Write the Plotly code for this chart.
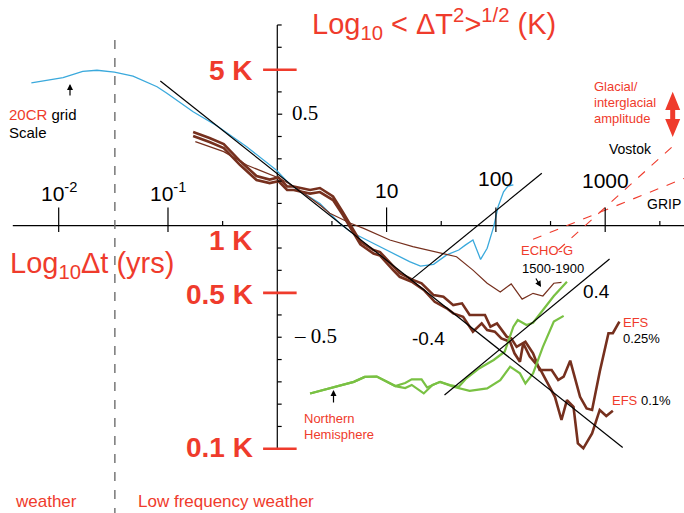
import plotly.graph_objects as go
import math

# ---------------- data (log10 of time lag in years, log10 of RMS fluctuation in K) ----------------
cr20_logdt = [-2.25, -1.96, -1.78, -1.65, -1.49, -1.32, -1.10, -1.01, -0.77, -0.55, -0.28, -0.01,
              0.12, 0.39, 0.57, 0.67, 0.85, 1.03, 1.21, 1.31, 1.43, 1.55, 1.66, 1.72, 1.79, 1.86,
              1.92, 1.98, 2.02, 2.07, 2.11, 2.16]
cr20_logdT = [0.640, 0.664, 0.692, 0.697, 0.689, 0.671, 0.623, 0.594, 0.511, 0.447, 0.354, 0.250,
              0.183, 0.100, 0.011, -0.027, -0.072, -0.117, -0.161, -0.181, -0.173, -0.131, -0.109,
              -0.087, -0.064, -0.151, -0.101, -0.004, 0.085, 0.152, 0.178, 0.183]

efs025_logdt = [-0.77, -0.62, -0.49, -0.34, -0.19, -0.07, 0.01, 0.09, 0.15, 0.30, 0.39, 0.51, 0.60,
                0.67, 0.76, 0.88, 0.94, 1.06, 1.12, 1.24, 1.32, 1.43, 1.52, 1.61, 1.69, 1.76, 1.90,
                1.95, 2.01, 2.10, 2.14, 2.19, 2.27, 2.34, 2.40, 2.51, 2.57, 2.62, 2.68, 2.77, 2.83,
                2.88, 2.95, 3.03, 3.07, 3.13]
efs025_logdT = [0.420, 0.393, 0.366, 0.290, 0.223, 0.207, 0.216, 0.176, 0.176, 0.160, 0.169, 0.131,
                0.061, 0.003, -0.071, -0.109, -0.118, -0.181, -0.213, -0.243, -0.258, -0.311, -0.318,
                -0.356, -0.348, -0.400, -0.400, -0.453, -0.438, -0.498, -0.505, -0.543, -0.520,
                -0.572, -0.647, -0.647, -0.692, -0.677, -0.605, -0.767, -0.819, -0.826, -0.655,
                -0.482, -0.482, -0.430]

efs01_logdt = [-0.77, -0.62, -0.49, -0.34, -0.19, -0.07, 0.01, 0.09, 0.15, 0.30, 0.39, 0.51, 0.60,
               0.67, 0.76, 0.88, 0.94, 1.06, 1.12, 1.23, 1.34, 1.44, 1.55, 1.61, 1.70, 1.79, 1.87,
               1.92, 1.99, 2.05, 2.13, 2.17, 2.22, 2.25, 2.31, 2.40, 2.49, 2.54, 2.60, 2.65, 2.71,
               2.75, 2.80, 2.88, 2.95, 3.01, 3.07]
efs01_logdT = [0.402, 0.375, 0.348, 0.272, 0.205, 0.191, 0.200, 0.160, 0.160, 0.144, 0.151, 0.115,
               0.048, -0.010, -0.084, -0.125, -0.134, -0.199, -0.229, -0.251, -0.288, -0.341,
               -0.370, -0.393, -0.408, -0.475, -0.438, -0.468, -0.475, -0.505, -0.520, -0.572,
               -0.610, -0.527, -0.587, -0.639, -0.722, -0.767, -0.871, -0.782, -0.812, -0.976,
               -0.998, -0.931, -0.826, -0.853, -0.830]

echog_logdt = [-0.75, -0.49, -0.28, -0.10, 0.02, 0.18, 0.39, 0.48, 0.60, 0.67, 0.79, 1.03, 1.24,
               1.49, 1.64, 1.79, 1.92, 2.04, 2.14, 2.24, 2.34, 2.43, 2.53, 2.60]
echog_logdT = [0.377, 0.332, 0.272, 0.235, 0.213, 0.168, 0.093, 0.056, 0.026, 0.011, -0.012,
               -0.064, -0.094, -0.124, -0.139, -0.199, -0.258, -0.297, -0.261, -0.329, -0.303,
               -0.315, -0.258, -0.254]

nh_a_logdt = [0.30, 0.57, 0.70, 0.80, 0.91, 0.99, 1.08, 1.17, 1.23, 1.32, 1.37, 1.49, 1.58, 1.66,
              1.73, 1.85, 1.98, 2.08, 2.16, 2.20, 2.28, 2.34, 2.43, 2.53, 2.65]
nh_a_logdT = [-0.752, -0.717, -0.700, -0.678, -0.676, -0.696, -0.719, -0.705, -0.689, -0.689,
              -0.725, -0.700, -0.714, -0.722, -0.684, -0.639, -0.602, -0.565, -0.453, -0.423,
              -0.445, -0.435, -0.378, -0.315, -0.251]

nh_b_logdt = [0.30, 0.57, 0.70, 0.80, 0.91, 0.99, 1.08, 1.17, 1.23, 1.34, 1.42, 1.49, 1.61, 1.76,
              1.92, 2.04, 2.13, 2.22, 2.27, 2.34, 2.43, 2.53, 2.62]
nh_b_logdT = [-0.752, -0.717, -0.700, -0.678, -0.676, -0.696, -0.719, -0.728, -0.714, -0.752,
              -0.714, -0.700, -0.722, -0.740, -0.729, -0.692, -0.632, -0.662, -0.707, -0.662,
              -0.543, -0.430, -0.404]

fit_neg_logdt = [-1.07, 3.16]          # slope -0.4
fit_neg_logdT = [0.649, -0.994]
fit_pos1_logdt = [1.22, 2.42]          # slope +0.4
fit_pos1_logdT = [-0.244, 0.235]
fit_pos2_logdt = [1.53, 3.04]          # slope +0.4
fit_pos2_logdT = [-0.759, -0.149]

vostok_logdt = [2.57, 3.64]
vostok_logdT = [-0.109, 0.366]
grip_logdt = [2.34, 3.80]
grip_logdT = [-0.061, 0.228]

xtick_major = [-2, -1, 1, 2, 3]
xtick_major_labels = ["10<sup>-2</sup>", "10<sup>-1</sup>", "10", "100", "1000"]
xtick_minor = [-0.5, 0.5, 1.5, 2.5, 3.5]
ytick_minor = [-0.9, -0.8, -0.7, -0.6, -0.5, -0.4, -0.2, -0.1, 0.1, 0.2, 0.3, 0.4, 0.5, 0.6, 0.8, 0.9]
kelvin_values = [5, 1, 0.5, 0.1]
kelvin_labels = ["5 K", "1 K", "0.5 K", "0.1 K"]
scale_break_logdt = -1.486

# ---------------- styling ----------------
W, H = 684, 513
XR = [-2.537, 3.721]
YR = [-1.288, 1.012]
RED = "#ef3b2c"
BROWN = "#76301e"
BLUE = "#3aa9dc"
GREEN = "#79c143"
SANS = "Liberation Sans, Arial, sans-serif"
SERIF = "Liberation Serif, Times New Roman, serif"


def paper(px, py):
    return px / W, 1 - py / H


fig = go.Figure()


def add_line(x, y, color, width, dash=None):
    fig.add_trace(go.Scatter(x=x, y=y, mode="lines",
                             line=dict(color=color, width=width, dash=dash),
                             hoverinfo="skip", showlegend=False))


# axes
add_line([-2.42, 3.8], [0, 0], "black", 1.2)
add_line([0, 0], [-1.0, 0.9], "black", 1.2)
add_line([scale_break_logdt, scale_break_logdt], [0.833, -1.3], "#6e6e6e", 1.4, "dash")

for xv in xtick_major:
    fig.add_shape(type="line", xref="x", yref="y", x0=xv, x1=xv, y0=-0.028, y1=0.082,
                  line=dict(color="black", width=1.2))
for xv in xtick_minor:
    fig.add_shape(type="line", xref="x", yref="y", x0=xv, x1=xv, y0=0, y1=0.021,
                  line=dict(color="black", width=1.2))
for yv in ytick_minor:
    fig.add_shape(type="line", xref="x", yref="y", x0=0, x1=0.045 if yv == 0.5 else 0.04,
                  y0=yv, y1=yv, line=dict(color="black", width=1.2))
for kv in kelvin_values:
    if kv == 1:
        continue
    ly = math.log10(kv)
    fig.add_shape(type="line", xref="x", yref="y", x0=-0.13, x1=0.177, y0=ly, y1=ly,
                  line=dict(color=RED, width=2.6))

# data curves
add_line(cr20_logdt, cr20_logdT, BLUE, 1.3)
add_line(echog_logdt, echog_logdT, BROWN, 1.2)
add_line(efs025_logdt, efs025_logdT, BROWN, 2.6)
add_line(efs01_logdt, efs01_logdT, BROWN, 2.6)
add_line(nh_a_logdt, nh_a_logdT, GREEN, 2.2)
add_line(nh_b_logdt, nh_b_logdT, GREEN, 2.2)
add_line(fit_neg_logdt, fit_neg_logdT, "black", 1.2)
add_line(fit_pos1_logdt, fit_pos1_logdT, "black", 1.2)
add_line(fit_pos2_logdt, fit_pos2_logdT, "black", 1.2)
add_line(vostok_logdt, vostok_logdT, RED, 1.1, "dash")
add_line(grip_logdt, grip_logdT, RED, 1.1, "dash")

annotations = []


def text(t, px, py, size, color="black", anchor="left", family=SANS, vanchor="middle"):
    x, y = paper(px, py)
    annotations.append(dict(text=t, x=x, y=y, xref="paper", yref="paper", showarrow=False,
                            xanchor=anchor, yanchor=vanchor,
                            font=dict(size=size, color=color, family=family)))


# titles
text("Log<sub>10</sub> &lt; ΔT<sup>2</sup>&gt;<sup>1/2</sup> (K)", 310, 24, 29, RED)
text("Log<sub>10</sub>Δt (yrs)", 8, 265, 29, RED)

# kelvin labels
k_pos = [70, 240, 294, 447]
for lab, py in zip(kelvin_labels, k_pos):
    text("<b>" + lab + "</b>", 255, py, 28, RED, anchor="right")

# x tick labels (positioned through the x axis)
x_label_py = [192, 192, 190, 178, 180]
for xv, lab, py in zip(xtick_major, xtick_major_labels, x_label_py):
    annotations.append(dict(text=lab, x=xv, y=(225.7 - py) / 223, xref="x", yref="y",
                            showarrow=False, xanchor="center", yanchor="middle",
                            font=dict(size=21, color="black", family=SANS)))

# y value labels
text("0.5", 290, 113, 21, "black", family=SERIF)
text("– 0.5", 292, 336, 21, "black", family=SERIF)
text("-0.4", 410, 338, 19)
text("0.4", 581, 291, 19)

# small labels
text("<span style='color:%s'>20CR</span> grid" % RED, 7, 114, 15)
text("Scale", 7, 132, 15)
text("Glacial/", 592, 86, 13, RED)
text("interglacial", 592, 102, 13, RED)
text("amplitude", 592, 118, 13, RED)
text("Vostok", 607, 149, 14)
text("GRIP", 645, 204, 14)
text("ECHO-G", 519, 251, 13, RED)
text("1500-1900", 520, 268, 13)
text("EFS", 621, 322, 13, RED)
text("0.25%", 621, 338, 13)
text("<span style='color:%s'>EFS</span> 0.1%%" % RED, 610, 400, 13)
text("Northern", 302, 418, 13, RED)
text("Hemisphere", 302, 434, 13, RED)
text("weather", 13, 501, 17, RED)
text("Low frequency weather", 136, 501, 17, RED)


def arrow(tip, tail):
    x, y = paper(*tip)
    annotations.append(dict(text="", x=x, y=y, xref="paper", yref="paper", showarrow=True,
                            ax=tail[0] - tip[0], ay=tail[1] - tip[1], axref="pixel", ayref="pixel",
                            arrowhead=2, arrowsize=1, arrowwidth=1.2, arrowcolor="black"))


arrow((70, 84), (70, 97))
arrow((333.5, 390), (333.5, 404))
arrow((541, 287), (535, 277))

# red double arrow (glacial/interglacial amplitude)
pts = [(672.7, 91.7), (680.2, 110), (675.2, 110), (675.2, 119), (680.2, 119), (672.7, 137),
       (665.2, 119), (670.2, 119), (670.2, 110), (665.2, 110)]
path = "M " + " L ".join("%.5f,%.5f" % paper(px, py) for px, py in pts) + " Z"
fig.add_shape(type="path", xref="paper", yref="paper", path=path,
              fillcolor=RED, line=dict(color=RED, width=0))

fig.update_layout(
    width=W, height=H, margin=dict(l=0, r=0, t=0, b=0),
    paper_bgcolor="white", plot_bgcolor="white",
    xaxis=dict(range=XR, visible=False, fixedrange=True),
    yaxis=dict(range=YR, visible=False, fixedrange=True),
    annotations=annotations, showlegend=False, hovermode=False,
)

fig.write_html("out.html", config={"displayModeBar": False},
               post_script="document.body.style.margin='0';document.body.style.overflow='hidden';")
